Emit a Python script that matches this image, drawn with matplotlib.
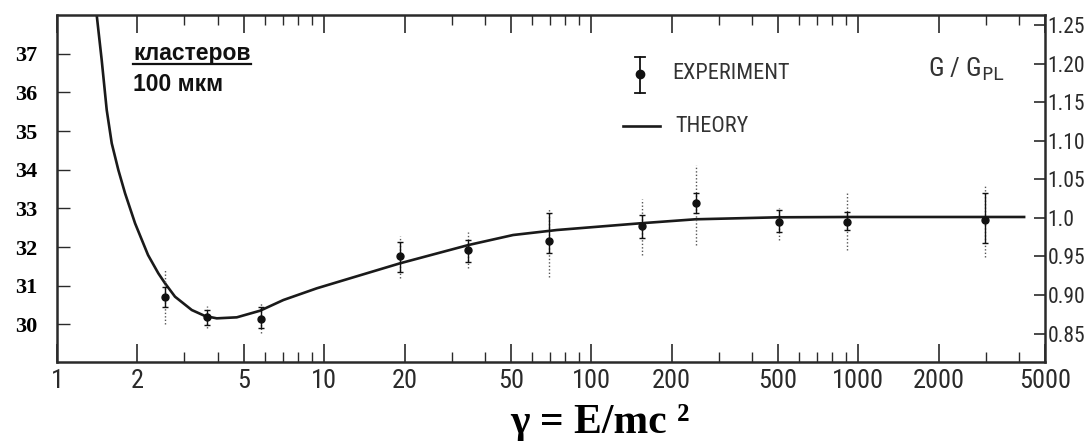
import matplotlib
matplotlib.use('Agg')
import matplotlib.pyplot as plt
from matplotlib.lines import Line2D
from matplotlib.transforms import IdentityTransform
import numpy as np

# measured points (gamma, G/G_PL) with inner (solid) and outer (dotted) error ranges
gamma = [2.54, 3.64, 5.81, 19.3, 34.7, 69.6, 154.9, 245.9, 503, 907, 2990]
ratio = [0.897, 0.871, 0.869, 0.951, 0.958, 0.9705, 0.989, 1.019, 0.9944, 0.9952, 0.998]
inner_lo = [0.884, 0.861, 0.857, 0.930, 0.943, 0.9545, 0.974, 1.0065, 0.9818, 0.9844, 0.9675]
inner_hi = [0.910, 0.881, 0.884, 0.969, 0.971, 1.0065, 1.004, 1.0325, 1.0104, 1.0078, 1.0325]
outer_lo = [0.862, 0.857, 0.851, 0.922, 0.935, 0.9238, 0.952, 0.965, 0.9714, 0.958, 0.949]
outer_hi = [0.9325, 0.886, 0.891, 0.976, 0.982, 1.0126, 1.0247, 1.0688, 1.013, 1.0325, 1.043]

# theory curve
gamma_th = [1.408, 1.470, 1.535, 1.603, 1.697, 1.798, 1.960, 2.192, 2.395, 2.538, 2.766,
            2.972, 3.196, 3.584, 3.964, 4.710, 5.758, 7.040, 9.390, 12.51, 19.26,
            34.7, 51.0, 74.4, 152.6, 245, 503, 909, 2990, 4223]
ratio_th = [1.2636, 1.2052, 1.1403, 1.0970, 1.0623, 1.0321, 0.9931, 0.9519, 0.9282,
            0.9152, 0.8978, 0.8892, 0.8805, 0.8727, 0.8697, 0.8710, 0.8796, 0.8935,
            0.9087, 0.9217, 0.9412, 0.9649, 0.9779, 0.9844, 0.9931, 0.9983, 1.0009,
            1.0013, 1.0013, 1.0013]

xticks = [1, 2, 5, 10, 20, 50, 100, 200, 500, 1000, 2000, 5000]
xminor = [3, 4, 6, 7, 8, 9, 30, 40, 60, 70, 80, 90, 300, 400, 600, 700, 800, 900,
          3000, 4000]
rticks = [1.25, 1.20, 1.15, 1.10, 1.05, 1.0, 0.95, 0.90, 0.85]
rlabels = ['1.25', '1.20', '1.15', '1.10', '1.05', '1.0', '0.95', '0.90', '0.85']
lticks = [30, 31, 32, 33, 34, 35, 36, 37]

narrow = ['Liberation Sans Narrow', 'DejaVu Sans Condensed', 'Roboto Condensed',
          'DejaVu Sans']
ink = '#2a2a2a'

fig = plt.figure(figsize=(10.88, 4.41), dpi=100)
ax = fig.add_axes([0.05239, 0.17914, 0.9081, 0.78685])
axl = ax.twinx()

ax.set_xscale('log')
ax.set_xlim(1, 5000)
ax.set_ylim(0.813, 1.2636)

ax.plot(gamma_th, ratio_th, color='#1a1a1a', lw=1.9, solid_capstyle='butt',
        solid_joinstyle='round')

g = np.array(gamma)
r = np.array(ratio)
ax.vlines(g, outer_lo, outer_hi, color='#555555', lw=1.0, linestyles=(0, (1, 1.5)))
ax.errorbar(g, r, yerr=[r - np.array(inner_lo), np.array(inner_hi) - r], fmt='o',
            ms=5, color='#111111', elinewidth=1.0, capsize=2.5, capthick=1.0)

ax.set_xticks(xticks, labels=[str(v) for v in xticks], family=narrow, fontsize=19,
              stretch='condensed', color='#333333')
ax.set_xticks(xminor, minor=True)
ax.xaxis.set_minor_formatter(matplotlib.ticker.NullFormatter())
ax.tick_params(axis='x', which='major', direction='in', length=13, width=1.2,
               top=True, pad=5, colors=ink)
ax.tick_params(axis='x', which='minor', direction='in', length=7, width=1.0,
               top=True, colors=ink)

ax.yaxis.tick_right()
ax.yaxis.set_label_position('right')
ax.set_yticks(rticks, labels=rlabels, family=narrow, fontsize=15.5,
              stretch='condensed', color='#333333')
ax.tick_params(axis='y', which='both', direction='in', length=8, width=1.2,
               pad=2, colors=ink, left=False, right=True, labelleft=False,
               labelright=True)

for s in ax.spines.values():
    s.set_linewidth(1.8)
    s.set_color(ink)

# Russian scale on the left
axl.set_ylim(29.03, 38.0)
axl.yaxis.set_ticks_position('left')
axl.set_yticks(lticks, labels=[str(v) for v in lticks], family='Liberation Serif',
               fontweight='bold', fontsize=16, color='black')
axl.tick_params(axis='y', direction='in', length=9, width=1.0, pad=14, colors=ink,
                labelleft=True, labelright=False, right=False)
for lbl in axl.get_yticklabels():
    lbl.set_color('black')
for s in axl.spines.values():
    s.set_visible(False)

# legend drawn by hand
ax.plot([0.590], [0.830], 'o', ms=6, color='#111111', transform=ax.transAxes,
        clip_on=False)
ax.plot([0.590, 0.590], [0.7752, 0.879], color='#111111', lw=1.3,
        transform=ax.transAxes, clip_on=False)
ax.plot([0.585, 0.595], [0.879, 0.879], color='#111111', lw=1.3, transform=ax.transAxes)
ax.plot([0.585, 0.595], [0.7752, 0.7752], color='#111111', lw=1.3, transform=ax.transAxes)
ax.text(0.6225, 0.830, 'EXPERIMENT', transform=ax.transAxes, family=narrow,
        stretch='condensed', fontsize=16, color='#333333', va='center', ha='left')
ax.plot([0.573, 0.610], [0.680, 0.680], color='#1a1a1a', lw=1.9, transform=ax.transAxes)
ax.text(0.6255, 0.680, 'THEORY', transform=ax.transAxes, family=narrow,
        stretch='condensed', fontsize=16, color='#333333', va='center', ha='left')
ax.text(0.8816, 0.843, r'G / G$_{\mathrm{PL}}$', transform=ax.transAxes, family=narrow,
        stretch='condensed', fontsize=19, color='#333333', va='center', ha='left')

t1 = fig.text(133 / 1088, 1 - 60 / 441, 'кластеров', family='Liberation Sans',
              fontweight='bold', fontsize=16.5, color='#111111', va='baseline')
fig.text(133 / 1088, 1 - 91 / 441, '100 мкм', family='Liberation Sans',
         fontweight='bold', fontsize=16.5, color='#111111', va='baseline')

fig.text(600 / 1088, 8 / 441, 'γ = E/mc ²', family='Liberation Serif',
         fontweight='bold', fontsize=30, color='black', ha='center', va='baseline')

fig.canvas.draw()
bb = t1.get_window_extent()
fig.add_artist(Line2D([bb.x0, bb.x1], [441 - 63.5, 441 - 63.5], color='#111111',
                      lw=1.6, transform=IdentityTransform()))

fig.savefig('out.png', dpi=100)
